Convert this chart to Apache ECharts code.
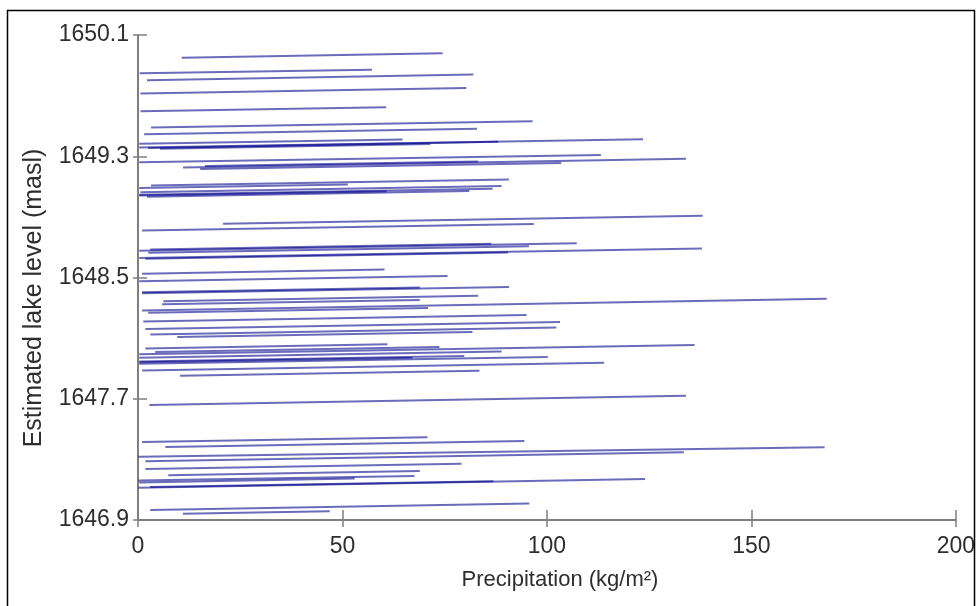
<!DOCTYPE html>
<html>
<head>
<meta charset="utf-8">
<script src="https://cdn.jsdelivr.net/npm/echarts@6.0.0/dist/echarts.min.js"></script>
<style>
  html, body { margin: 0; padding: 0; background: #ffffff; }
  #chart { width: 978px; height: 606px; }
</style>
</head>
<body>
<div id="chart"></div>
<script>
// Precipitation (kg/m2) at the left and right end of each segment
const precipStart = [10.7, 0.4, 2.2, 0.6, 0.6, 3.2, 1.5, 0.3, 0.3, 2.5, 5.4, 0.3, 11.0, 15.2, 16.4,
  3.2, 0.6, 0.3, 2.2, 0.3, 0.3, 20.8, 1.0, 0.3, 2.5, 0.3, 1.8, 3.0, 1.0, 0.3,
  1.0, 6.2, 1.0, 2.5, 1.3, 1.8, 3.0, 9.6, 1.0, 5.9,
  0.3, 0.3, 0.3, 1.0, 10.3, 1.8, 0.3, 4.2, 0.3, 2.8,
  1.0, 6.7, 0.1, 1.8, 1.8, 7.4, 0.1, 3.0, 0.1, 0.3, 3.0, 11.0];
const precipEnd = [74.5, 57.2, 82.0, 80.3, 60.7, 96.5, 82.9, 64.7, 123.5, 88.1, 71.5, 113.2, 134.0, 103.5, 83.2,
  90.7, 88.9, 86.7, 81.0, 51.3, 60.8, 138.1, 96.8, 107.3, 95.6, 137.9, 90.5, 86.4, 60.3, 75.7,
  90.7, 83.2, 168.4, 70.9, 95.0, 103.2, 102.3, 81.8, 68.9, 68.9,
  136.1, 88.9, 100.2, 114.0, 83.5, 61.0, 79.8, 73.7, 67.1, 134.0,
  70.8, 94.5, 167.9, 133.5, 79.1, 68.9, 124.0, 86.9, 67.6, 53.0, 95.7, 46.9];
// Estimated lake level (masl) at the left and right end of each segment
const levelStart = [1649.950, 1649.847, 1649.802, 1649.714, 1649.597, 1649.489, 1649.445, 1649.382, 1649.357, 1649.355, 1649.350,
  1649.260, 1649.226, 1649.216, 1649.236,
  1649.107, 1649.063, 1649.046, 1649.033, 1649.091, 1649.041, 1648.854, 1648.810,
  1648.677, 1648.664, 1648.628, 1648.624, 1648.684, 1648.525, 1648.476,
  1648.396, 1648.344, 1648.283, 1648.267, 1648.209, 1648.161, 1648.124, 1648.108, 1648.402, 1648.323,
  1647.993, 1647.970, 1647.931, 1647.886, 1647.851, 1648.032, 1647.946, 1648.009, 1647.941, 1647.659,
  1647.414, 1647.381, 1647.317, 1647.287, 1647.236, 1647.195, 1647.113, 1647.117, 1647.160, 1647.148, 1646.966, 1646.941];
const levelEnd = [1649.979, 1649.870, 1649.839, 1649.750, 1649.624, 1649.531, 1649.482, 1649.410, 1649.412, 1649.395, 1649.380,
  1649.309, 1649.283, 1649.256, 1649.266,
  1649.147, 1649.103, 1649.085, 1649.070, 1649.114, 1649.069, 1648.907, 1648.853,
  1648.726, 1648.706, 1648.691, 1648.665, 1648.722, 1648.552, 1648.510,
  1648.437, 1648.379, 1648.359, 1648.298, 1648.252, 1648.207, 1648.170, 1648.141, 1648.434, 1648.352,
  1648.055, 1648.011, 1647.976, 1647.938, 1647.885, 1648.059, 1647.982, 1648.041, 1647.971, 1647.720,
  1647.446, 1647.422, 1647.380, 1647.347, 1647.271, 1647.223, 1647.170, 1647.155, 1647.191, 1647.173, 1647.009, 1646.958];

const xTicks = [0, 50, 100, 150, 200];
const yTicks = [1646.9, 1647.7, 1648.5, 1649.3, 1650.1];
const xTitle = 'Precipitation (kg/m\u00B2)';
const yTitle = 'Estimated lake level (masl)';

const segments = precipStart.map((x, i) => ({
  coords: [[x, levelStart[i]], [precipEnd[i], levelEnd[i]]]
}));

const axisGray = '#7f7f7f';
const labelColor = '#2e2e2e';
const fontFam = 'Liberation Sans, Arial, sans-serif';

const chart = echarts.init(document.getElementById('chart'), null, { renderer: 'canvas' });
chart.setOption({
  animation: false,
  backgroundColor: '#ffffff',
  grid: { left: 138, right: 20, top: 35, bottom: 86, containLabel: false },
  xAxis: [
    {
      type: 'value', position: 'bottom',
      min: xTicks[0], max: xTicks[xTicks.length - 1], interval: 50,
      axisLine: { show: true, lineStyle: { color: axisGray, width: 2 } },
      axisTick: { show: true, inside: true, length: 10, lineStyle: { color: axisGray, width: 1.5 } },
      axisLabel: { show: true, color: labelColor, fontSize: 23, fontFamily: fontFam, margin: 15 },
      splitLine: { show: false }
    },
    {
      type: 'value', position: 'bottom', offset: 0,
      min: xTicks[0], max: xTicks[xTicks.length - 1], interval: 50,
      axisLine: { show: false },
      axisTick: { show: true, inside: false, length: 7, lineStyle: { color: axisGray, width: 1.5 } },
      axisLabel: { show: false },
      splitLine: { show: false }
    }
  ],
  yAxis: [
    {
      type: 'value', position: 'left',
      min: yTicks[0], max: yTicks[yTicks.length - 1],
      axisLine: { show: true, lineStyle: { color: axisGray, width: 2 } },
      axisTick: { show: true, inside: true, length: 9, customValues: yTicks, lineStyle: { color: axisGray, width: 1.5 } },
      axisLabel: { show: true, customValues: yTicks, color: labelColor, fontSize: 23, fontFamily: fontFam, margin: 9,
        formatter: v => Number(v).toFixed(1) },
      splitLine: { show: false }
    },
    {
      type: 'value', position: 'left', offset: 0,
      min: yTicks[0], max: yTicks[yTicks.length - 1],
      axisLine: { show: false },
      axisTick: { show: true, inside: false, length: 5, customValues: yTicks, lineStyle: { color: axisGray, width: 1.5 } },
      axisLabel: { show: false, customValues: yTicks },
      splitLine: { show: false }
    }
  ],
  graphic: [
    {
      type: 'rect', silent: true, z: 0,
      shape: { x: 7.5, y: 10.5, width: 967, height: 640 },
      style: { fill: 'none', stroke: '#000000', lineWidth: 1.5 }
    },
    {
      type: 'text', silent: true,
      x: 560, y: 580,
      style: { text: xTitle, fill: labelColor, font: '22px ' + fontFam, align: 'center', verticalAlign: 'middle' }
    },
    {
      type: 'text', silent: true,
      x: 34, y: 298, rotation: Math.PI / 2,
      style: { text: yTitle, fill: labelColor, font: '25px ' + fontFam, align: 'center', verticalAlign: 'middle' }
    }
  ],
  series: [
    {
      type: 'lines',
      coordinateSystem: 'cartesian2d',
      xAxisIndex: 0, yAxisIndex: 0,
      polyline: false,
      silent: true,
      data: segments,
      lineStyle: { color: '#00008b', width: 2, opacity: 0.58, curveness: 0 },
      z: 3
    }
  ]
});
</script>
</body>
</html>
